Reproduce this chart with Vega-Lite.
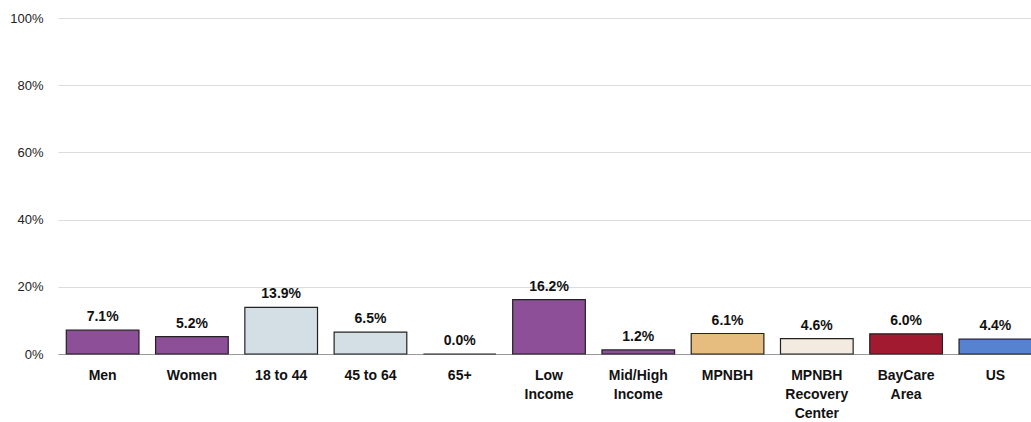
{
  "$schema": "https://vega.github.io/schema/vega-lite/v6.json",
  "width": 982,
  "height": 336,
  "autosize": {"type": "none"},
  "padding": {"left": 58, "top": 18, "right": 0, "bottom": 68},
  "background": "white",
  "config": {"view": {"stroke": null}, "font": "Liberation Sans"},
  "data": {
    "values": [
      {"cat": "Men", "value": 7.1, "color": "#8C4F98"},
      {"cat": "Women", "value": 5.2, "color": "#8C4F98"},
      {"cat": "18 to 44", "value": 13.9, "color": "#D3DFE4"},
      {"cat": "45 to 64", "value": 6.5, "color": "#D3DFE4"},
      {"cat": "65+", "value": 0.0, "color": "#D3DFE4"},
      {"cat": "Low|Income", "value": 16.2, "color": "#8C4F98"},
      {"cat": "Mid/High|Income", "value": 1.2, "color": "#8C4F98"},
      {"cat": "MPNBH", "value": 6.1, "color": "#E6BD7E"},
      {"cat": "MPNBH|Recovery|Center", "value": 4.6, "color": "#F3EBE0"},
      {"cat": "BayCare|Area", "value": 6.0, "color": "#A21A30"},
      {"cat": "US", "value": 4.4, "color": "#5682D0"}
    ]
  },
  "transform": [
    {"calculate": "format(datum.value, '.1f') + '%'", "as": "label"}
  ],
  "encoding": {
    "x": {
      "field": "cat",
      "type": "nominal",
      "sort": null,
      "scale": {"paddingInner": 0.186, "paddingOuter": 0.093},
      "axis": {
        "title": null,
        "labelAngle": 0,
        "labelExpr": "split(datum.label, '|')",
        "labelFont": "Liberation Sans",
        "labelFontWeight": "bold",
        "labelFontSize": 14,
        "labelColor": "#111",
        "labelLineHeight": 19,
        "labelPadding": 14,
        "ticks": false,
        "domain": true,
        "domainColor": "#999999",
        "domainWidth": 1.2
      }
    },
    "y": {
      "field": "value",
      "type": "quantitative",
      "scale": {"domain": [0, 100]},
      "axis": {
        "title": null,
        "values": [0, 20, 40, 60, 80, 100],
        "labelExpr": "datum.value + '%'",
        "labelFont": "Liberation Sans",
        "labelFontSize": 13,
        "labelColor": "#222",
        "labelPadding": 15,
        "ticks": false,
        "domain": false,
        "gridColor": "#dcdcdc",
        "gridWidth": 1
      }
    }
  },
  "layer": [
    {
      "mark": {"type": "bar", "stroke": "#222222", "strokeWidth": 1.2},
      "encoding": {"color": {"field": "color", "type": "nominal", "scale": null}}
    },
    {
      "mark": {"type": "text", "baseline": "bottom", "dy": -6, "fontWeight": "bold", "fontSize": 14, "font": "Liberation Sans", "color": "#111"},
      "encoding": {"text": {"field": "label", "type": "nominal"}}
    }
  ]
}
